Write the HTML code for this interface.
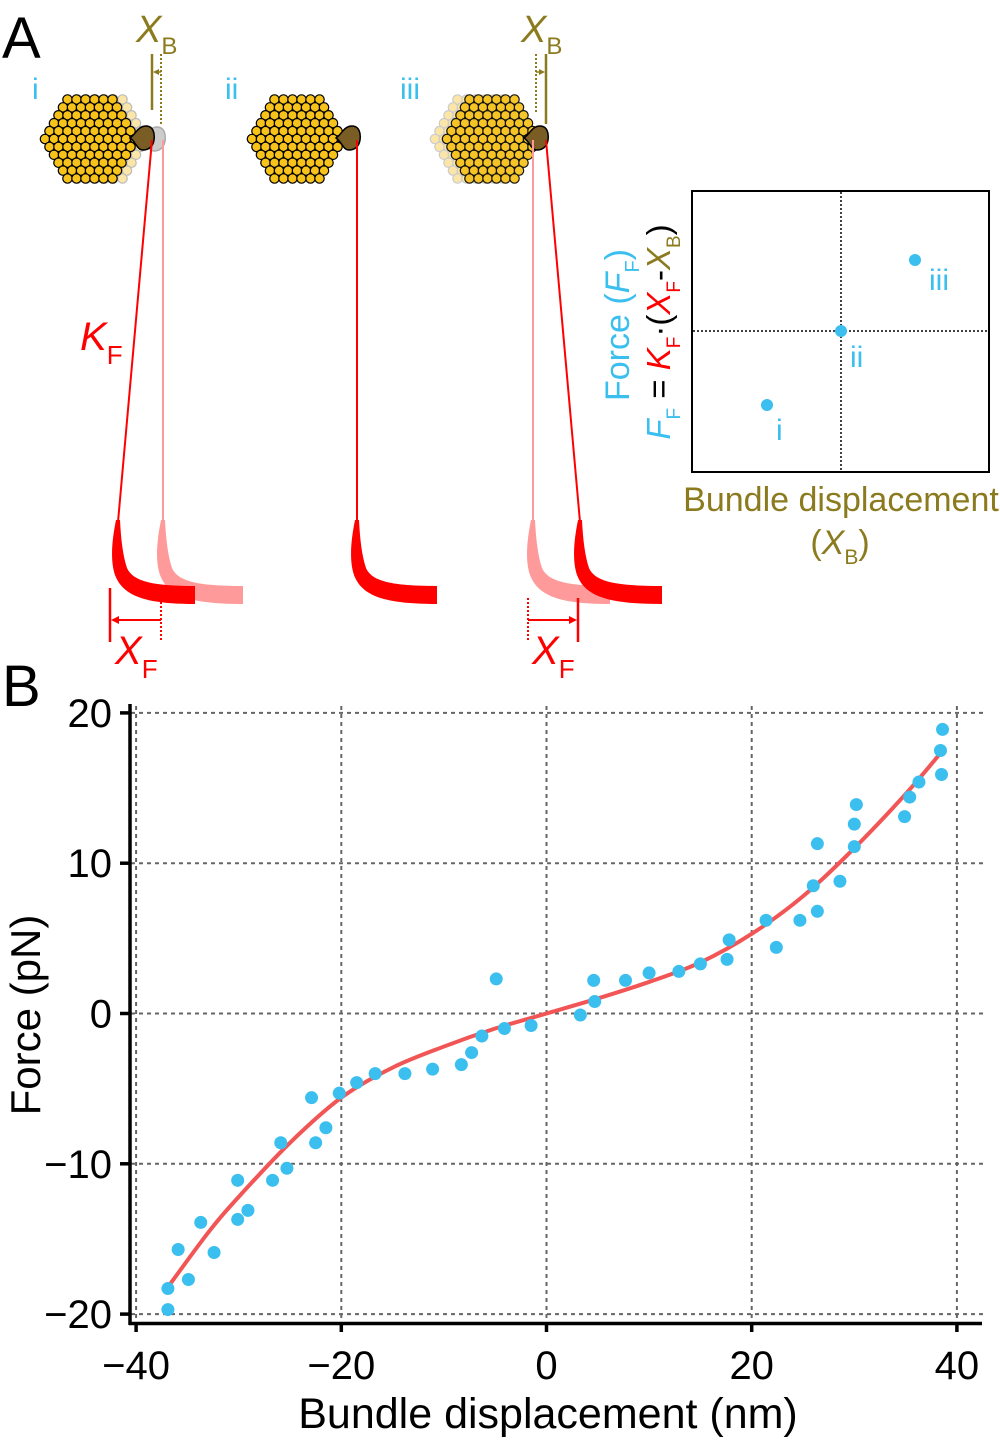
<!DOCTYPE html>
<html><head><meta charset="utf-8"><style>
html,body{margin:0;padding:0;background:#fff;}
svg{display:block;font-family:"Liberation Sans",Arial,sans-serif;}
</style></head><body>
<svg id="fig" width="1000" height="1448" viewBox="0 0 1000 1448" xmlns="http://www.w3.org/2000/svg">
<text x="2" y="58" font-size="58" fill="#000">A</text>
<text x="2" y="706" font-size="58" fill="#000">B</text>
<g id="bundles"></g>
<g id="fibers">
  <line x1="163" y1="140" x2="163" y2="522" stroke="#ff9a9a" stroke-width="2"/>
  <path d="M161,520 C157,540 155,560 160,575 C168,596 190,604 243,604 L243,586 C200,586 178,582 172,568 C168,556 166,540 165,520 Z" fill="#ff9a9a"/>
  <line x1="152" y1="140" x2="118" y2="522" stroke="#ff0000" stroke-width="2"/>
  <path d="M116,520 C112,540 110,560 115,575 C123,596 145,604 195,604 L195,586 C155,586 133,582 127,568 C123,556 121,540 120,520 Z" fill="#ff0000"/>
  <line x1="357" y1="140" x2="357" y2="522" stroke="#ff0000" stroke-width="2"/>
  <path d="M355,520 C351,540 349,560 354,575 C362,596 384,604 437,604 L437,586 C394,586 372,582 366,568 C362,556 360,540 359,520 Z" fill="#ff0000"/>
  <line x1="533" y1="140" x2="533" y2="522" stroke="#ff9a9a" stroke-width="2"/>
  <path d="M531,520 C527,540 525,560 530,575 C538,596 560,604 610,604 L610,586 C570,586 548,582 542,568 C538,556 536,540 535,520 Z" fill="#ff9a9a"/>
  <line x1="546" y1="140" x2="580" y2="522" stroke="#ff0000" stroke-width="2"/>
  <path d="M578,520 C574,540 572,560 577,575 C585,596 607,604 662,604 L662,586 C617,586 595,582 589,568 C585,556 583,540 582,520 Z" fill="#ff0000"/>
</g>
<g stroke="#8b7b1e" fill="#8b7b1e">
  <line x1="152" y1="54" x2="152" y2="110" stroke-width="2.5"/>
  <line x1="161" y1="54" x2="161" y2="124" stroke-width="2" stroke-dasharray="2,2"/>
  <line x1="161" y1="72" x2="156" y2="72" stroke-width="1.5"/>
  <path d="M153,72 L159,69 L159,75 Z" stroke="none"/>
</g>
<g stroke="#8b7b1e" fill="#8b7b1e">
  <line x1="546" y1="54" x2="546" y2="124" stroke-width="2.5"/>
  <line x1="536" y1="54" x2="536" y2="112" stroke-width="2" stroke-dasharray="2,2"/>
  <line x1="536" y1="72" x2="541" y2="72" stroke-width="1.5"/>
  <path d="M545,72 L539,69 L539,75 Z" stroke="none"/>
</g>
<text x="136" y="42" font-size="38" font-style="italic" fill="#8b7b1e">X<tspan font-size="24" font-style="normal" dy="12">B</tspan></text>
<text x="521" y="42" font-size="38" font-style="italic" fill="#8b7b1e">X<tspan font-size="24" font-style="normal" dy="12">B</tspan></text>
<g stroke="#ff0000" fill="#ff0000">
  <line x1="110" y1="588" x2="110" y2="642" stroke-width="2.5"/>
  <line x1="161" y1="598" x2="161" y2="642" stroke-width="2" stroke-dasharray="2,2"/>
  <line x1="161" y1="620" x2="116" y2="620" stroke-width="2"/>
  <path d="M111,620 L119,616 L119,624 Z" stroke="none"/>
</g>
<g stroke="#ff0000" fill="#ff0000">
  <line x1="578" y1="598" x2="578" y2="642" stroke-width="2.5"/>
  <line x1="528" y1="598" x2="528" y2="642" stroke-width="2" stroke-dasharray="2,2"/>
  <line x1="528" y1="620" x2="572" y2="620" stroke-width="2"/>
  <path d="M577,620 L569,616 L569,624 Z" stroke="none"/>
</g>
<text x="115" y="664" font-size="40" font-style="italic" fill="#ff0000">X<tspan font-size="26" font-style="normal" dy="14">F</tspan></text>
<text x="532" y="664" font-size="40" font-style="italic" fill="#ff0000">X<tspan font-size="26" font-style="normal" dy="14">F</tspan></text>
<text x="80" y="350" font-size="40" font-style="italic" fill="#ff0000">K<tspan font-size="26" font-style="normal" dy="14">F</tspan></text>
<text x="32" y="99" font-size="30" fill="#3bbfef">i</text>
<text x="225" y="99" font-size="30" fill="#3bbfef">ii</text>
<text x="400" y="99" font-size="30" fill="#3bbfef">iii</text>
<g>
  <rect x="692" y="191" width="297" height="281" fill="none" stroke="#000" stroke-width="2"/>
  <line x1="841" y1="192" x2="841" y2="471" stroke="#000" stroke-width="1.5" stroke-dasharray="2,2"/>
  <line x1="693" y1="331" x2="988" y2="331" stroke="#000" stroke-width="1.5" stroke-dasharray="2,2"/>
  <circle cx="767" cy="405" r="6" fill="#3bbfef"/>
  <circle cx="841" cy="331" r="6" fill="#3bbfef"/>
  <circle cx="915" cy="260" r="6" fill="#3bbfef"/>
  <text x="776" y="440" font-size="30" fill="#3bbfef">i</text>
  <text x="850" y="367" font-size="30" fill="#3bbfef">ii</text>
  <text x="929" y="290" font-size="30" fill="#3bbfef">iii</text>
</g>
<text transform="translate(629,325) rotate(-90)" text-anchor="middle" font-size="34" fill="#3bbfef">Force (<tspan font-style="italic">F</tspan><tspan font-size="20" dy="10">F</tspan><tspan dy="-10">)</tspan></text>
<text transform="translate(670,332) rotate(-90)" text-anchor="middle" font-size="33"><tspan fill="#3bbfef" font-style="italic">F</tspan><tspan fill="#3bbfef" font-size="19" dy="10">F</tspan><tspan fill="#000" dy="-10"> = </tspan><tspan fill="#ff0000" font-style="italic">K</tspan><tspan fill="#ff0000" font-size="19" dy="10">F</tspan><tspan fill="#000" dy="-10">·(</tspan><tspan fill="#ff0000" font-style="italic">X</tspan><tspan fill="#ff0000" font-size="19" dy="10">F</tspan><tspan fill="#000" dy="-10">-</tspan><tspan fill="#8b7b1e" font-style="italic">X</tspan><tspan fill="#8b7b1e" font-size="19" dy="10">B</tspan><tspan fill="#000" dy="-10">)</tspan></text>
<text x="841" y="511" text-anchor="middle" font-size="34" fill="#8b7b1e">Bundle displacement</text>
<text x="840" y="554" text-anchor="middle" font-size="34" fill="#8b7b1e">(<tspan font-style="italic">X</tspan><tspan font-size="21" dy="10">B</tspan><tspan dy="-10">)</tspan></text>
<g id="chart"></g>
</svg>
<script>
// ---- Chart data ----
const xTicks = [-40, -20, 0, 20, 40];
const yTicks = [-20, -10, 0, 10, 20];
const xTickLabels = ["\u221240", "\u221220", "0", "20", "40"];
const yTickLabels = ["\u221220", "\u221210", "0", "10", "20"];
const dataX = [-36.9,-36.9,-35.9,-34.9,-33.7,-32.4,-30.1,-30.1,-29.1,-26.7,-25.9,-25.3,-22.9,-22.5,-21.5,-20.2,-18.5,-16.7,-13.8,-11.1,-8.3,-7.3,-6.3,-4.9,-4.1,-1.5,3.3,4.6,4.7,7.7,10.0,12.9,15.0,17.6,17.8,21.4,22.4,24.7,26.0,26.4,26.4,28.6,30.0,30.0,30.2,34.9,35.4,36.3,38.5,38.4,38.6];
const dataY = [-19.7,-18.3,-15.7,-17.7,-13.9,-15.9,-13.7,-11.1,-13.1,-11.1,-8.6,-10.3,-5.6,-8.6,-7.6,-5.3,-4.6,-4.0,-4.0,-3.7,-3.4,-2.6,-1.5,2.3,-1.0,-0.8,-0.1,2.2,0.8,2.2,2.7,2.8,3.3,3.6,4.9,6.2,4.4,6.2,8.5,6.8,11.3,8.8,11.1,12.6,13.9,13.1,14.4,15.4,15.9,17.5,18.9];
const fitX = [-37,-33,-30,-25,-20,-15,-10,-5,0,5,10,15,20,25,30,35,38.5];
const fitY = [-18.3,-14.6,-12.2,-8.6,-5.6,-3.6,-2.2,-1.0,0,1.0,2.1,3.4,5.3,7.8,11.0,14.6,17.4];

const NS = "http://www.w3.org/2000/svg";
function mk(tag, attrs, parent){const e=document.createElementNS(NS,tag);for(const k in attrs)e.setAttribute(k,attrs[k]);parent.appendChild(e);return e;}
const sx = v => 546.5 + v * 10.26;
const sy = v => 1013.5 - v * 15.03;
const chart = document.getElementById('chart');

xTicks.forEach((t,i)=>{
  const g = mk('line',{x1:sx(t),x2:sx(t),y1:706,y2:1322,stroke:'#666','stroke-width':2,'stroke-dasharray':'4,4'},chart);
  
  
});
yTicks.forEach((t,i)=>{
  const g = mk('line',{x1:131,x2:986,y1:sy(t),y2:sy(t),stroke:'#666','stroke-width':2,'stroke-dasharray':'4,4'},chart);
  
  
});
const ya = mk('line',{x1:130,x2:130,y1:704,y2:1325,stroke:'#000','stroke-width':3.5},chart);


const xa = mk('line',{x1:129,x2:982,y1:1323.5,y2:1323.5,stroke:'#000','stroke-width':3.5},chart);


xTicks.forEach((t,i)=>{
  mk('line',{x1:sx(t),x2:sx(t),y1:1322,y2:1332,stroke:'#000','stroke-width':3.5},chart);
  const l = mk('text',{x:sx(t),y:1379,'text-anchor':'middle','font-size':40,fill:'#000'},chart);
  l.textContent = xTickLabels[i];
  
  
});
yTicks.forEach((t,i)=>{
  mk('line',{x1:120,x2:131,y1:sy(t),y2:sy(t),stroke:'#000','stroke-width':3.5},chart);
  const l = mk('text',{x:112,y:sy(t)+14,'text-anchor':'end','font-size':40,fill:'#000'},chart);
  l.textContent = yTickLabels[i];
  
  
});
const xt = mk('text',{x:548,y:1428,'text-anchor':'middle','font-size':43,fill:'#000'},chart);
xt.textContent = 'Bundle displacement (nm)';


const yt = mk('text',{transform:'translate(40,1015) rotate(-90)','text-anchor':'middle','font-size':42,fill:'#000'},chart);
yt.textContent = 'Force (pN)';


const P = fitX.map((x,i)=>[sx(x),sy(fitY[i])]);
let d = 'M'+P[0][0]+','+P[0][1];
for(let i=0;i<P.length-1;i++){
  const p0=P[Math.max(0,i-1)],p1=P[i],p2=P[i+1],p3=P[Math.min(P.length-1,i+2)];
  d+=' C'+(p1[0]+(p2[0]-p0[0])/6)+','+(p1[1]+(p2[1]-p0[1])/6)+' '+(p2[0]-(p3[0]-p1[0])/6)+','+(p2[1]-(p3[1]-p1[1])/6)+' '+p2[0]+','+p2[1];
}
const fit = mk('path',{d:d,fill:'none',stroke:'#f25555','stroke-width':4},chart);


dataX.forEach((x,i)=>{
  const c = mk('circle',{cx:sx(x),cy:sy(dataY[i]),r:6.5,fill:'#3bbfef'},chart);
  
  
});

const B = document.getElementById('bundles');
function bundle(cx, cy, fill, stroke, op){
  const g = mk('g',{opacity:op},B);
  const s=6, sp=9, rs=7.9;
  for(let r=-(s-1); r<=s-1; r++){
    const n = 2*s-1-Math.abs(r);
    for(let k=0;k<n;k++){
      const x = cx + (k-(n-1)/2)*sp, y = cy + r*rs;
      mk('circle',{cx:x,cy:y,r:4.7,fill:fill,stroke:stroke,'stroke-width':1.2},g);
    }
  }
  return g;
}
function knob(x, y, fill, stroke){
  mk('path',{d:`M${x-12},${y} C${x-6},${y-4} ${x-4},${y-12} ${x+4},${y-12} C${x+11},${y-12} ${x+13},${y-5} ${x+12},${y+2} C${x+11},${y+9} ${x+6},${y+12} ${x+1},${y+12} C${x-5},${y+12} ${x-6},${y+4} ${x-12},${y} Z`,fill:fill,stroke:stroke,'stroke-width':1.5},B);
}
const bi = bundle(100,139,'#fbe6a8','#bbb',1);


knob(153,139,'#ccc','#aaa');
const bi2 = bundle(90,139,'#f7c21a','#000',1);


knob(142,138,'#7a5c25','#000');
const bii = bundle(297,139,'#f7c21a','#000',1);


knob(348,138,'#7a5c25','#000');
const biii0 = bundle(480,139,'#fbe6a8','#ccc',1);


const biii = bundle(492,139,'#f7c21a','#000',0.92);


knob(536,138,'#7a5c25','#000');
</script>
</body></html>
